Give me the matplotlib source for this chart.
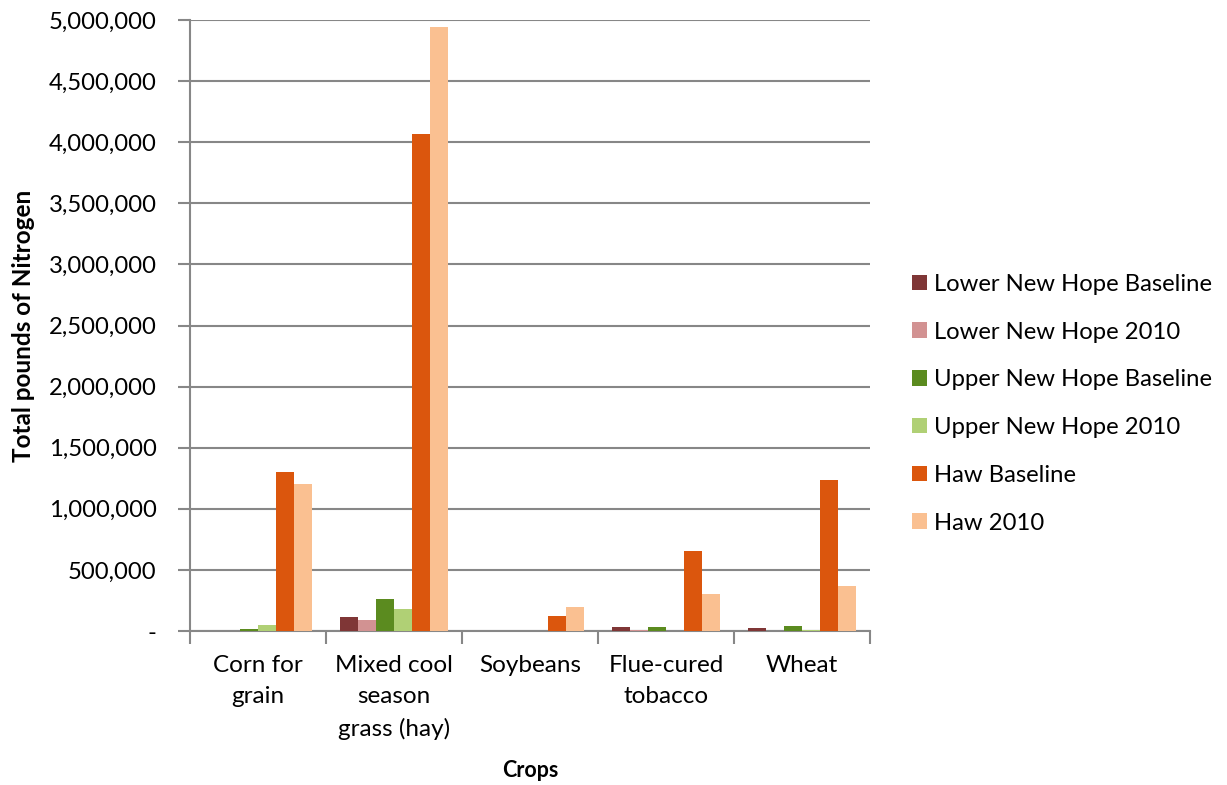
import matplotlib
matplotlib.use("Agg")
import matplotlib.pyplot as plt
import numpy as np
from matplotlib.ticker import FuncFormatter, FixedLocator

crops = ["Corn for\ngrain", "Mixed cool\nseason\ngrass (hay)", "Soybeans",
         "Flue-cured\ntobacco", "Wheat"]
series_names = ["Lower New Hope Baseline", "Lower New Hope 2010",
                "Upper New Hope Baseline", "Upper New Hope 2010",
                "Haw Baseline", "Haw 2010"]
lower_baseline = [0, 115000, 0, 30000, 27000]
lower_2010 = [0, 88000, 0, 8000, 0]
upper_baseline = [14000, 263000, 0, 30000, 45000]
upper_2010 = [53000, 179000, 0, 0, 12000]
haw_baseline = [1300000, 4065000, 119000, 655000, 1235000]
haw_2010 = [1205000, 4945000, 195000, 302000, 370000]
series_values = [lower_baseline, lower_2010, upper_baseline, upper_2010,
                 haw_baseline, haw_2010]
colors = ["#7F3636", "#D29292", "#5B8B1F", "#B0D075", "#DB560D", "#FAC091"]

plt.rcParams["font.family"] = ["Lato", "DejaVu Sans"]
grid_col = "#878787"

fig = plt.figure(figsize=(12.27, 7.85), dpi=100)
ax = fig.add_axes([190 / 1227, 1 - 631 / 785, 680 / 1227, 611 / 785])

n = len(series_names)
x = np.arange(len(crops))
bw = 18 / 136
offset0 = -0.5 + (136 - n * 18) / 2 / 136
for i, (name, vals, c) in enumerate(zip(series_names, series_values, colors)):
    ax.bar(x + offset0 + bw * (i + 0.5), vals, width=bw,
           color=c, label=name, zorder=3, linewidth=0)

ax.set_xlim(-0.5, len(crops) - 0.5)
ax.set_ylim(0, 5000000)
ax.set_yticks(np.arange(0, 5000001, 500000))
ax.yaxis.set_major_formatter(FuncFormatter(lambda v, p: "-" if v == 0 else f"{int(v):,}"))
ax.grid(axis="y", color=grid_col, linewidth=1.5, zorder=0)

# category labels centred, tick marks at category boundaries
ax.set_xticks(x)
ax.set_xticklabels(crops, fontsize=17.5, linespacing=1.62, va="top")
ax.tick_params(axis="x", length=0, pad=17)
ax.xaxis.set_minor_locator(FixedLocator(np.arange(-0.5, len(crops), 1)))
ax.tick_params(axis="x", which="minor", length=9, width=1.5, color=grid_col)
ax.tick_params(axis="y", length=9, width=1.5, color=grid_col, labelsize=17.2, pad=15)

for side in ["top", "right"]:
    ax.spines[side].set_visible(False)
for side in ["left", "bottom"]:
    ax.spines[side].set_color(grid_col)
    ax.spines[side].set_linewidth(1.5)

ax.set_ylabel("Total pounds of Nitrogen", fontsize=17.5, fontweight="bold", labelpad=10)
ax.set_xlabel("Crops", fontsize=15.5, fontweight="bold", labelpad=14)

leg = ax.legend(loc="center left", bbox_to_anchor=(1.048, 0.372), frameon=False,
                fontsize=17.2, handlelength=0.62, handleheight=0.62, handletextpad=0.3,
                labelspacing=1.12, borderaxespad=0)

fig.savefig("out.png", dpi=100)
